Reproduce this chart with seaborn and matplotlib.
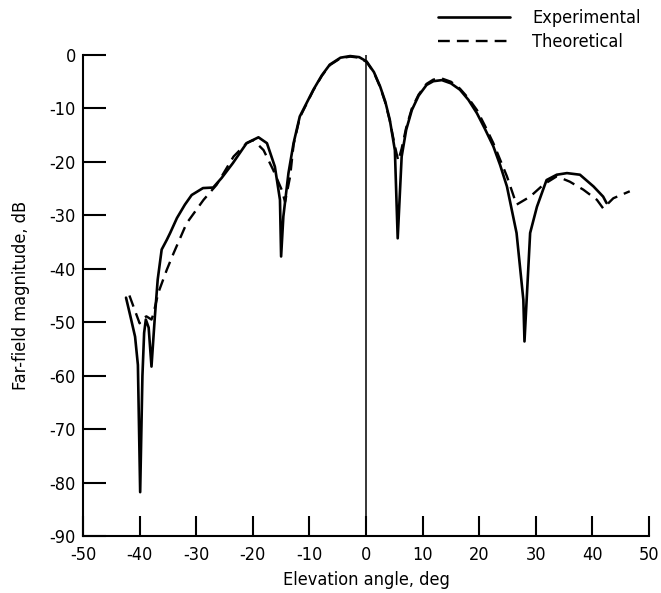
import matplotlib
matplotlib.use("Agg")
import matplotlib.pyplot as plt
import seaborn as sns
import numpy as np
from matplotlib import font_manager

exp_angle = [-42.4, -41.6, -40.8, -40.3, -39.9, -39.5, -39.2, -38.9, -38.4, -37.9, -37.5, -37.3,
             -36.8, -36.1, -35.2, -34.6, -33.4, -32.0, -30.8, -28.8, -27.0, -25.5, -23.5, -21.1,
             -19.0, -17.5, -16.1, -15.2, -15.0, -14.6, -13.7, -12.8, -11.7, -9.3, -7.8, -6.4, -4.5,
             -2.8, -1.2, 0.1, 1.4, 2.5, 3.4, 4.2, 5.1, 5.6, 6.3, 7.1, 8.1, 9.3, 10.7, 11.9, 13.4,
             15.0, 16.6, 18.1, 19.6, 21.0, 22.5, 23.7, 24.9, 26.6,
             27.8, 28.0, 29.0, 30.2, 31.9, 33.7, 35.5, 37.8, 40.2, 41.9, 42.5]
exp_db = [-45.4, -49.0, -52.7, -58.0, -81.8, -60.0, -52.0, -49.5, -51.0, -58.3, -52.0, -48.9,
          -42.0, -36.4, -34.6, -33.3, -30.5, -28.0, -26.2, -24.9, -24.8, -23.0, -20.2, -16.5,
          -15.4, -16.5, -20.9, -27.1, -37.7, -30.2, -22.1, -16.5, -11.5, -6.5, -3.8, -1.8, -0.5,
          -0.2, -0.4, -1.2, -3.2, -5.9, -8.7, -12.1, -17.8, -34.3, -19.0, -14.0, -10.3, -7.6,
          -5.6, -4.9, -4.7, -5.3, -6.5, -8.4, -10.9, -13.8, -17.1, -20.6,
          -24.6, -33.3, -45.8, -53.6, -33.3, -28.4, -23.4, -22.4, -22.1, -22.4, -24.6, -26.5, -27.7]

theo_angle = [-41.8, -40.0, -39.3, -38.8, -37.9, -37.6, -36.7, -35.2, -34.0, -31.7, -28.7, -26.4,
              -23.4, -21.1, -19.9, -18.1, -16.4, -14.9, -14.3, -13.4, -12.8, -11.7, -9.3, -7.8, -6.4,
              -4.5, -2.8, -1.2, 0.1, 1.4, 2.5, 3.4, 4.2, 5.1, 5.7, 6.3, 7.1, 8.1, 9.3, 10.7, 11.9,
              13.4, 15.0, 16.6, 18.1, 19.6, 21.0, 22.5, 23.7, 24.9, 26.6,
              29.0, 31.3, 33.7, 36.0, 38.4, 40.8, 41.9, 43.7, 46.6]
theo_db = [-45.0, -50.2, -49.2, -48.9, -49.5, -48.6, -44.5, -40.2, -37.1, -31.5, -27.1, -24.3,
           -19.0, -16.5, -15.9, -17.8, -21.5, -25.2, -27.5, -22.7, -16.8, -11.7, -6.6, -3.9, -1.9,
           -0.6, -0.3, -0.5, -1.3, -3.3, -6.0, -8.9, -12.3, -17.0, -19.8, -17.5, -13.6, -10.0,
           -7.4, -5.4, -4.6, -4.4, -5.0, -6.3, -8.1, -10.3, -13.2, -16.5, -19.6,
           -22.7, -28.0, -26.5, -24.3, -22.7, -23.7, -25.2, -27.1, -28.7, -26.8, -25.5]

x_ticks = [-50, -40, -30, -20, -10, 0, 10, 20, 30, 40, 50]
y_ticks = [0, -10, -20, -30, -40, -50, -60, -70, -80, -90]

sns.set_theme(style="white")
names = {f.name for f in font_manager.fontManager.ttflist}
fam = ["Liberation Sans Narrow"] if "Liberation Sans Narrow" in names else ["DejaVu Sans"]
plt.rcParams["font.family"] = fam + ["DejaVu Sans"]
plt.rcParams["font.stretch"] = "condensed"
plt.rcParams["text.color"] = "black"
plt.rcParams["axes.labelcolor"] = "black"
plt.rcParams["xtick.color"] = "black"
plt.rcParams["ytick.color"] = "black"

fig = plt.figure(figsize=(6.61, 5.93), dpi=100)
ax = fig.add_axes([83 / 661, 1 - 536 / 593, (649 - 83) / 661, (536 - 55) / 593])

sns.lineplot(x=exp_angle, y=exp_db, ax=ax, color="black", linewidth=1.9, sort=False,
             estimator=None, label="Experimental")
sns.lineplot(x=theo_angle, y=theo_db, ax=ax, color="black", linewidth=1.7, sort=False,
             estimator=None, label="Theoretical")
lines = ax.get_lines()
lines[1].set_dashes((5, 3))
for ln in lines:
    ln.set_clip_on(False)
    ln.set_solid_joinstyle("round")
    ln.set_dash_joinstyle("round")

ax.axvline(0, ymin=0, ymax=1, color="black", linewidth=1.1)

ax.set_xlim(-50, 50)
ax.set_ylim(-90, 0)
ax.set_xticks(x_ticks)
ax.set_yticks(y_ticks)
ax.set_xticklabels([str(t) for t in x_ticks])
ax.set_yticklabels([str(t) for t in y_ticks])

for s in ["top", "right"]:
    ax.spines[s].set_visible(False)
for s in ["left", "bottom"]:
    ax.spines[s].set_color("black")
    ax.spines[s].set_linewidth(1.5)

ax.tick_params(axis="y", direction="in", length=16.5, width=1.5, color="black",
               labelsize=13, pad=5, left=True, labelcolor="black")
ax.tick_params(axis="x", direction="in", length=14.5, width=1.5, color="black",
               labelsize=13, pad=7, bottom=True, labelcolor="black")

ax.set_xlabel("Elevation angle, deg", fontsize=13, labelpad=5, color="black")
ax.set_ylabel("Far-field magnitude, dB", fontsize=13, labelpad=14, color="black")
ax.grid(False)

leg = ax.legend(loc="upper left", bbox_to_anchor=(438 / 661, 1 - 9 / 593),
                bbox_transform=fig.transFigure, frameon=False, fontsize=13,
                handlelength=4.0, handletextpad=1.2, labelspacing=0.35, borderpad=0,
                borderaxespad=0)
for t in leg.get_texts():
    t.set_color("black")

fig.savefig("out.png", dpi=100)
